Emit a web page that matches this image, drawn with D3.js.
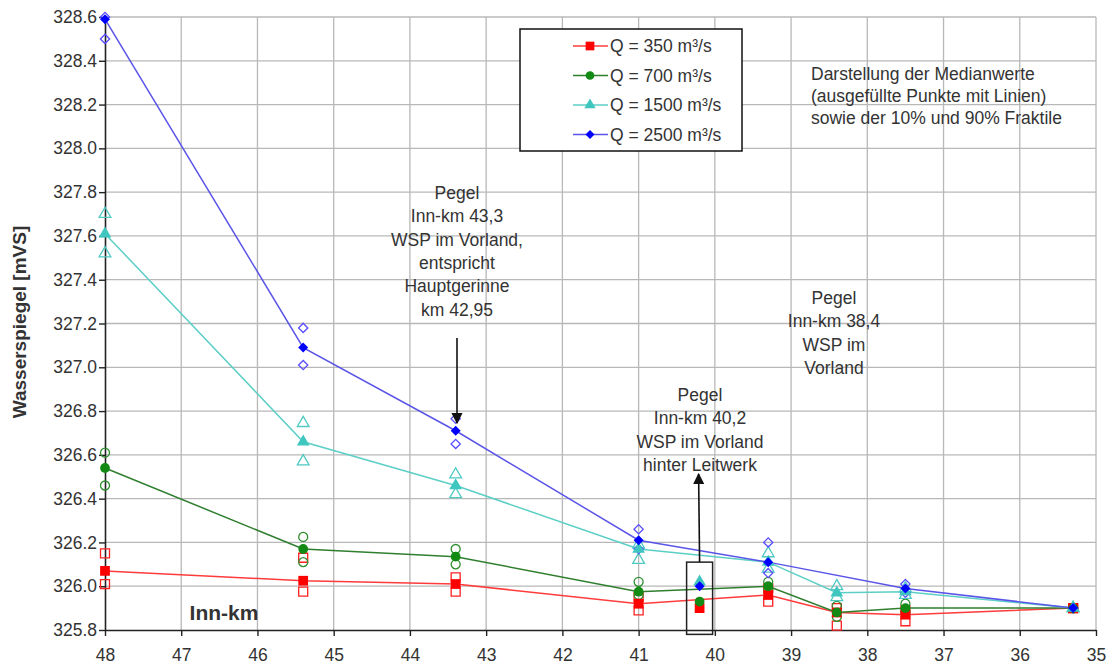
<!DOCTYPE html>
<html>
<head>
<meta charset="utf-8">
<script src="https://cdn.jsdelivr.net/npm/d3@7"></script>
<style>
  body { margin: 0; background: #fff; }
  svg text { font-family: "Liberation Sans", Arial, sans-serif; fill: #333; }
</style>
</head>
<body>
<div id="chart"></div>
<script>
// Inn-km positions
var kmMain = [48, 45.4, 43.4, 41, 39.3, 38.4, 37.5, 35.3];
var kmBlue = [48, 45.4, 43.4, 41, 39.3, 37.5, 35.3];
var kmPegel = 40.2;

// Q = 350 m³/s
var q350Median = [326.07, 326.025, 326.01, 325.92, 325.96, 325.88, 325.87, 325.90];
var q350P10    = [326.01, 325.975, 325.975, 325.89, 325.93, 325.82, 325.84, 325.90];
var q350P90    = [326.15, 326.13, 326.04, 325.95, 325.99, 325.90, 325.89, 325.90];
// Q = 700 m³/s
var q700Median = [326.54, 326.17, 326.135, 325.975, 326.00, 325.88, 325.90, 325.90];
var q700P10    = [326.46, 326.11, 326.10, 325.96, 325.98, 325.86, 325.885, 325.90];
var q700P90    = [326.61, 326.225, 326.17, 326.02, 326.02, 325.91, 325.92, 325.90];
// Q = 1500 m³/s
var q1500Median = [327.61, 326.66, 326.46, 326.17, 326.11, 325.97, 325.975, 325.90];
var q1500P10    = [327.52, 326.57, 326.42, 326.12, 326.08, 325.95, 325.96, 325.90];
var q1500P90    = [327.70, 326.745, 326.51, 326.19, 326.15, 326.00, 325.99, 325.90];
// Q = 2500 m³/s
var q2500Median = [328.59, 327.09, 326.71, 326.21, 326.11, 325.99, 325.90];
var q2500P10    = [328.50, 327.01, 326.65, 326.17, 326.06, 325.97, 325.90];
var q2500P90    = [328.60, 327.18, 326.765, 326.26, 326.20, 326.01, 325.90];

// Pegel Inn-km 40,2 (no lines)
var pegelValues = [325.90, 325.93, 326.02, 326.00];

var seriesNames = ["Q = 350 m³/s", "Q = 700 m³/s", "Q = 1500 m³/s", "Q = 2500 m³/s"];
var xTicks = [48, 47, 46, 45, 44, 43, 42, 41, 40, 39, 38, 37, 36, 35];
var yTicks = [325.8, 326.0, 326.2, 326.4, 326.6, 326.8, 327.0, 327.2, 327.4, 327.6, 327.8, 328.0, 328.2, 328.4, 328.6];

var series = [
  { name: seriesNames[0], km: kmMain, med: q350Median, p10: q350P10, p90: q350P90,
    line: "#ff3b3b", fill: "#ff0000", open: "#ff2020", shape: d3.symbolSquare, size: 95, rot: 0 },
  { name: seriesNames[1], km: kmMain, med: q700Median, p10: q700P10, p90: q700P90,
    line: "#2f7f2f", fill: "#138a13", open: "#2f8f2f", shape: d3.symbolCircle, size: 75, rot: 0 },
  { name: seriesNames[2], km: kmMain, med: q1500Median, p10: q1500P10, p90: q1500P90,
    line: "#5ccfc6", fill: "#3ec6bf", open: "#4fc9c2", shape: d3.symbolTriangle, size: 70, rot: 0 },
  { name: seriesNames[3], km: kmBlue, med: q2500Median, p10: q2500P10, p90: q2500P90,
    line: "#5a55e8", fill: "#0000ff", open: "#5a4cff", shape: d3.symbolSquare, size: 50, rot: 45 }
];

var width = 1118, height = 667;
var margin = { left: 105, top: 17, right: 22, bottom: 37 };

var svg = d3.select("#chart").append("svg")
  .attr("width", width)
  .attr("height", height);

var x = d3.scaleLinear().domain([48, 35]).range([margin.left, width - margin.right]);
var y = d3.scaleLinear().domain([325.8, 328.6]).range([height - margin.bottom, margin.top]);

// grid
svg.append("g").selectAll("line").data(xTicks.slice(1)).enter().append("line")
  .attr("x1", function(d) { return x(d); }).attr("x2", function(d) { return x(d); })
  .attr("y1", y(328.6)).attr("y2", y(325.8))
  .attr("stroke", "#b8b8b8").attr("stroke-width", 1.3);
svg.append("g").selectAll("line").data(yTicks.slice(1)).enter().append("line")
  .attr("x1", x(48)).attr("x2", x(35))
  .attr("y1", function(d) { return y(d); }).attr("y2", function(d) { return y(d); })
  .attr("stroke", "#b8b8b8").attr("stroke-width", 1.3);

// axes
var yAxis = svg.append("g")
  .attr("transform", "translate(" + x(48) + ",0)")
  .call(d3.axisLeft(y).tickValues(yTicks).tickFormat(d3.format(".1f")).tickSize(6).tickSizeOuter(0));
var xAxis = svg.append("g")
  .attr("transform", "translate(0," + y(325.8) + ")")
  .call(d3.axisBottom(x).tickValues(xTicks).tickFormat(d3.format("d")).tickSize(6).tickSizeOuter(0));
[xAxis, yAxis].forEach(function(a) {
  a.select(".domain").attr("stroke", "#222").attr("stroke-width", 1.6);
  a.selectAll(".tick line").attr("stroke", "#222").attr("stroke-width", 1.4);
  a.selectAll(".tick text").attr("font-size", "17.5px").attr("fill", "#333");
});
yAxis.selectAll(".tick text").attr("x", -8);
xAxis.selectAll(".tick text").attr("y", 19);

// axis titles
svg.append("text")
  .attr("transform", "translate(26," + 322 + ") rotate(-90)")
  .attr("text-anchor", "middle")
  .attr("font-size", "19px").attr("font-weight", "bold")
  .text("Wasserspiegel [mVS]");
svg.append("text")
  .attr("x", 224).attr("y", 620)
  .attr("text-anchor", "middle")
  .attr("font-size", "21px").attr("font-weight", "bold")
  .text("Inn-km");

// lines and points
var lineGen = d3.line()
  .x(function(d) { return x(d.km); })
  .y(function(d) { return y(d.v); });

function place(s, km, v) {
  return "translate(" + x(km) + "," + y(v) + ") rotate(" + s.rot + ")";
}

series.forEach(function(s) {
  var med = s.km.map(function(k, i) { return { km: k, v: s.med[i] }; });
  var frac = [];
  s.km.forEach(function(k, i) {
    frac.push({ km: k, v: s.p10[i] });
    frac.push({ km: k, v: s.p90[i] });
  });
  svg.append("path")
    .datum(med)
    .attr("d", lineGen)
    .attr("fill", "none")
    .attr("stroke", s.line)
    .attr("stroke-width", 1.5);
  svg.append("g").selectAll("path").data(frac).enter().append("path")
    .attr("d", d3.symbol().type(s.shape).size(s.size * 0.85))
    .attr("transform", function(d) { return place(s, d.km, d.v); })
    .attr("fill", "none")
    .attr("stroke", s.open)
    .attr("stroke-width", 1.3);
  s.medData = med;
});
series.forEach(function(s) {
  svg.append("g").selectAll("path").data(s.medData).enter().append("path")
    .attr("d", d3.symbol().type(s.shape).size(s.size))
    .attr("transform", function(d) { return place(s, d.km, d.v); })
    .attr("fill", s.fill);
});

// Pegel 40,2 points with frame
svg.append("rect")
  .attr("x", x(kmPegel) - 13).attr("y", y(326.11))
  .attr("width", 26).attr("height", y(325.78) - y(326.11))
  .attr("fill", "none").attr("stroke", "#222").attr("stroke-width", 1.5);
series.forEach(function(s, i) {
  svg.append("path")
    .attr("d", d3.symbol().type(s.shape).size(s.size))
    .attr("transform", place(s, kmPegel, pegelValues[i]))
    .attr("fill", s.fill);
});

// annotations
svg.append("defs").append("marker")
  .attr("id", "arrow").attr("viewBox", "0 0 10 10")
  .attr("refX", 9).attr("refY", 5)
  .attr("markerWidth", 7).attr("markerHeight", 7)
  .attr("orient", "auto")
  .append("path").attr("d", "M0,0 L10,5 L0,10 z").attr("fill", "#111");

function note(lines, cx, y0, dy) {
  var t = svg.append("text").attr("text-anchor", "middle").attr("font-size", "17.5px");
  lines.forEach(function(l, i) {
    t.append("tspan").attr("x", cx).attr("y", y0 + i * dy).text(l);
  });
}
note(["Pegel", "Inn-km 43,3", "WSP im Vorland,", "entspricht", "Hauptgerinne", "km 42,95"], 457, 199, 23.3);
note(["Pegel", "Inn-km 40,2", "WSP im Vorland", "hinter Leitwerk"], 700, 401, 23.3);
note(["Pegel", "Inn-km 38,4", "WSP im", "Vorland"], 834, 304, 23.3);

svg.append("line")
  .attr("x1", 457).attr("y1", 338).attr("x2", 457).attr("y2", 423)
  .attr("stroke", "#111").attr("stroke-width", 1.6).attr("marker-end", "url(#arrow)");
svg.append("line")
  .attr("x1", x(kmPegel)).attr("y1", y(326.11)).attr("x2", x(kmPegel) - 1).attr("y2", 474)
  .attr("stroke", "#111").attr("stroke-width", 1.6).attr("marker-end", "url(#arrow)");

var desc = svg.append("text").attr("font-size", "17.5px");
["Darstellung der Medianwerte", "(ausgefüllte Punkte mit Linien)", "sowie der 10% und 90% Fraktile"]
  .forEach(function(l, i) {
    desc.append("tspan").attr("x", 811).attr("y", 80 + i * 22).text(l);
  });

// legend
var legend = svg.append("g");
legend.append("rect")
  .attr("x", 520).attr("y", 29).attr("width", 222).attr("height", 122)
  .attr("fill", "#fff").attr("stroke", "#111").attr("stroke-width", 1.5);
series.forEach(function(s, i) {
  var ly = 46 + i * 29.5;
  legend.append("line")
    .attr("x1", 573).attr("x2", 608).attr("y1", ly).attr("y2", ly)
    .attr("stroke", s.line).attr("stroke-width", 1.5);
  legend.append("path")
    .attr("d", d3.symbol().type(s.shape).size(s.size * 0.8))
    .attr("transform", "translate(590," + ly + ") rotate(" + s.rot + ")")
    .attr("fill", s.fill);
  legend.append("text")
    .attr("x", 610).attr("y", ly + 6)
    .attr("font-size", "17.5px")
    .text(s.name);
});
</script>
</body>
</html>
